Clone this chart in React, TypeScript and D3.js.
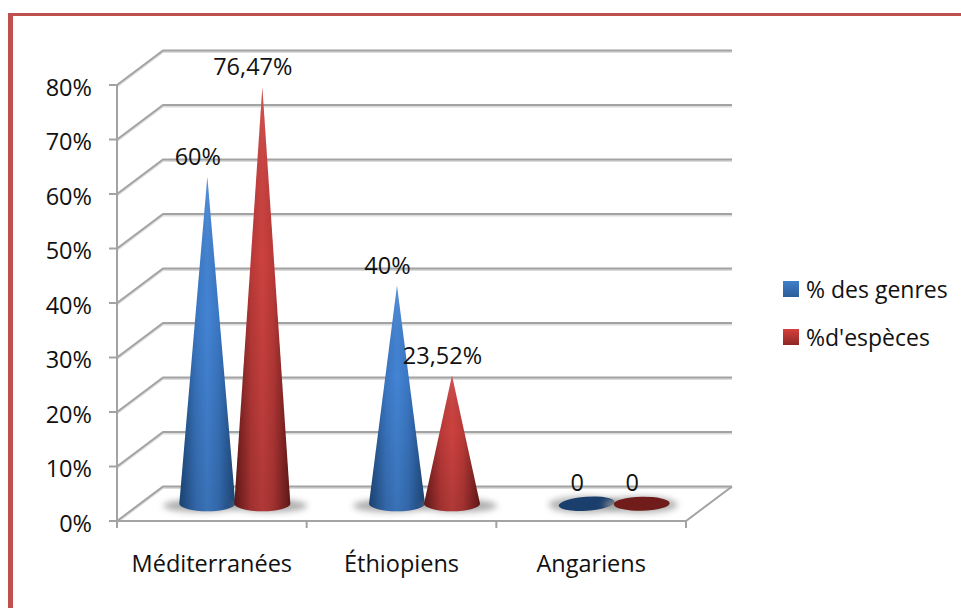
import React from "react";
import * as d3 from "d3";

const categories = ["Méditerranées", "Éthiopiens", "Angariens"];
const seriesNames = ["% des genres", "%d'espèces"];
const genres = [60, 40, 0];
const especes = [76.47, 23.52, 0];
const genresLabels = ["60%", "40%", "0"];
const especesLabels = ["76,47%", "23,52%", "0"];
const yTicks = [0, 10, 20, 30, 40, 50, 60, 70, 80];

const WIDTH = 961;
const HEIGHT = 608;
const FONT = "'Open Sans', sans-serif";
const FONT_SIZE = 23.5;

// Oblique projection of the 3D box: the back wall sits up and to the right of the front edge.
const depthX = 46;
const depthY = 34.5;
const x = d3.scaleBand<string>().domain(categories).range([117, 686]);
const y = d3.scaleLinear().domain([0, 80]).range([521, 85]);

const coneRx = 28;
const coneRy = 7.5;
const coneOffset = 27.5;

const palette = [
  { id: "blue", edge: "#1f4c80", mid: "#3a76c2", light: "#4384d4", flat: "#1b3f6c", swatchTop: "#3f7fcb", swatchBottom: "#2c5c98", shadowDx: -6 },
  { id: "red", edge: "#6b1b1b", mid: "#b83937", light: "#cc4240", flat: "#6f1c1a", swatchTop: "#d4403d", swatchBottom: "#8f2725", shadowDx: 7 },
];

const seriesValues = [genres, especes];
const seriesLabels = [genresLabels, especesLabels];

function GridLine({ value }: { value: number }) {
  const py = y(value);
  const x0 = x.range()[0];
  const x1 = x.range()[1];
  const d = `M${x0},${py}L${x0 + depthX},${py - depthY}L${x1 + depthX},${py - depthY}`;
  return (
    <g fill="none">
      <path d={d} stroke="#dcdcdc" strokeWidth={2} transform="translate(0,1.5)" />
      <path d={d} stroke="#a3a3a3" strokeWidth={2} />
    </g>
  );
}

function Cone({ cx, value, s }: { cx: number; value: number; s: number }) {
  const base = y(0) - depthY / 2;
  const p = palette[s];
  if (value === 0) {
    const tilt = s === 0 ? -4 : -1;
    return (
      <g>
        <ellipse cx={cx - 1} cy={base + 1} rx={coneRx + 9} ry={coneRy + 1} fill="#9a9a9a" filter="url(#soft)" opacity={0.75} />
        <ellipse cx={cx} cy={base} rx={coneRx} ry={coneRy - 0.5} fill={p.flat} transform={`rotate(${tilt} ${cx} ${base})`} />
      </g>
    );
  }
  const apex = y(value) - depthY / 2;
  const outline = `M${cx},${apex}L${cx + coneRx},${base}A${coneRx},${coneRy} 0 0 1 ${cx - coneRx},${base}Z`;
  return (
    <g>
      <ellipse cx={cx + p.shadowDx} cy={base + 2} rx={coneRx + 10} ry={coneRy - 1} fill="#8a8a8a" filter="url(#soft)" opacity={0.7} />
      <path d={outline} fill={`url(#cone-${p.id})`} />
      <path d={outline} fill="url(#cone-fade)" />
    </g>
  );
}

export default function App() {
  const band = x.bandwidth();
  const centers = categories.map((c) => (x(c) as number) + band / 2 + depthX / 2);
  const tickXs = [...categories.map((c) => x(c) as number), x.range()[1]];
  const x0 = x.range()[0];
  const x1 = x.range()[1];

  return (
    <svg
      width={WIDTH}
      height={HEIGHT}
      viewBox={`0 0 ${WIDTH} ${HEIGHT}`}
      style={{ position: "absolute", left: 0, top: 0, background: "#fff" }}
      fontFamily={FONT}
      fill="#111"
    >
      <defs>
        <filter id="soft" x="-30%" y="-80%" width="160%" height="260%">
          <feGaussianBlur stdDeviation="3" />
        </filter>
        {palette.map((p) => (
          <linearGradient key={p.id} id={`cone-${p.id}`} x1="0" x2="1" y1="0" y2="0">
            <stop offset="0" stopColor={p.edge} />
            <stop offset="0.3" stopColor={p.mid} />
            <stop offset="0.5" stopColor={p.light} />
            <stop offset="0.7" stopColor={p.mid} />
            <stop offset="1" stopColor={p.edge} />
          </linearGradient>
        ))}
        <linearGradient id="cone-fade" x1="0" x2="0" y1="0" y2="1">
          <stop offset="0" stopColor="#fff" stopOpacity={0.1} />
          <stop offset="0.4" stopColor="#000" stopOpacity={0} />
          <stop offset="1" stopColor="#000" stopOpacity={0.14} />
        </linearGradient>
        {palette.map((p) => (
          <linearGradient key={p.id} id={`swatch-${p.id}`} x1="0" x2="0" y1="0" y2="1">
            <stop offset="0" stopColor={p.swatchTop} />
            <stop offset="1" stopColor={p.swatchBottom} />
          </linearGradient>
        ))}
      </defs>

      {/* Page frame: top and left rules */}
      <rect x={8} y={13} width={WIDTH - 8} height={3} fill="#c0504d" />
      <rect x={8} y={13} width={5} height={HEIGHT - 13} fill="#c0504d" />

      {/* Walls and floor */}
      {yTicks.map((t) => (
        <GridLine key={t} value={t} />
      ))}
      <path
        d={`M${x0},${y(80)}V${y(0)}H${x1}L${x1 + depthX},${y(0) - depthY}`}
        fill="none"
        stroke="#a3a3a3"
        strokeWidth={2}
      />
      {yTicks.map((t) => (
        <line key={t} x1={x0 - 8} x2={x0} y1={y(t)} y2={y(t)} stroke="#a3a3a3" strokeWidth={2} />
      ))}
      {tickXs.map((tx) => (
        <line key={tx} x1={tx} x2={tx} y1={y(0)} y2={y(0) + 7} stroke="#a3a3a3" strokeWidth={2} />
      ))}

      {/* Cones */}
      {seriesValues.map((vals, s) =>
        vals.map((v, i) => (
          <Cone key={`${s}-${i}`} s={s} value={v} cx={centers[i] + (s === 0 ? -coneOffset : coneOffset)} />
        ))
      )}

      {/* Value axis labels */}
      {yTicks.map((t) => (
        <text key={t} x={92} y={y(t) + 1.5} textAnchor="end" dominantBaseline="central" fontSize={FONT_SIZE}>
          {`${t}%`}
        </text>
      ))}

      {/* Category labels */}
      {categories.map((c) => (
        <text key={c} x={(x(c) as number) + band / 2} y={563} textAnchor="middle" dominantBaseline="central" fontSize={FONT_SIZE}>
          {c}
        </text>
      ))}

      {/* Data labels */}
      {seriesValues.map((vals, s) =>
        vals.map((v, i) => (
          <text
            key={`${s}-${i}`}
            x={centers[i] + (s === 0 ? -coneOffset : coneOffset) - 9.5}
            y={y(v) - depthY / 2 - (v === 0 ? 22 : 20.5)}
            textAnchor="middle"
            dominantBaseline="central"
            fontSize={FONT_SIZE}
          >
            {seriesLabels[s][i]}
          </text>
        ))
      )}

      {/* Legend */}
      {seriesNames.map((name, s) => (
        <g key={name} transform={`translate(783,${281 + s * 48})`}>
          <rect width={16} height={16} fill={`url(#swatch-${palette[s].id})`} />
          <text x={23} y={8} dominantBaseline="central" fontSize={FONT_SIZE - 0.5}>
            {name}
          </text>
        </g>
      ))}
    </svg>
  );
}
